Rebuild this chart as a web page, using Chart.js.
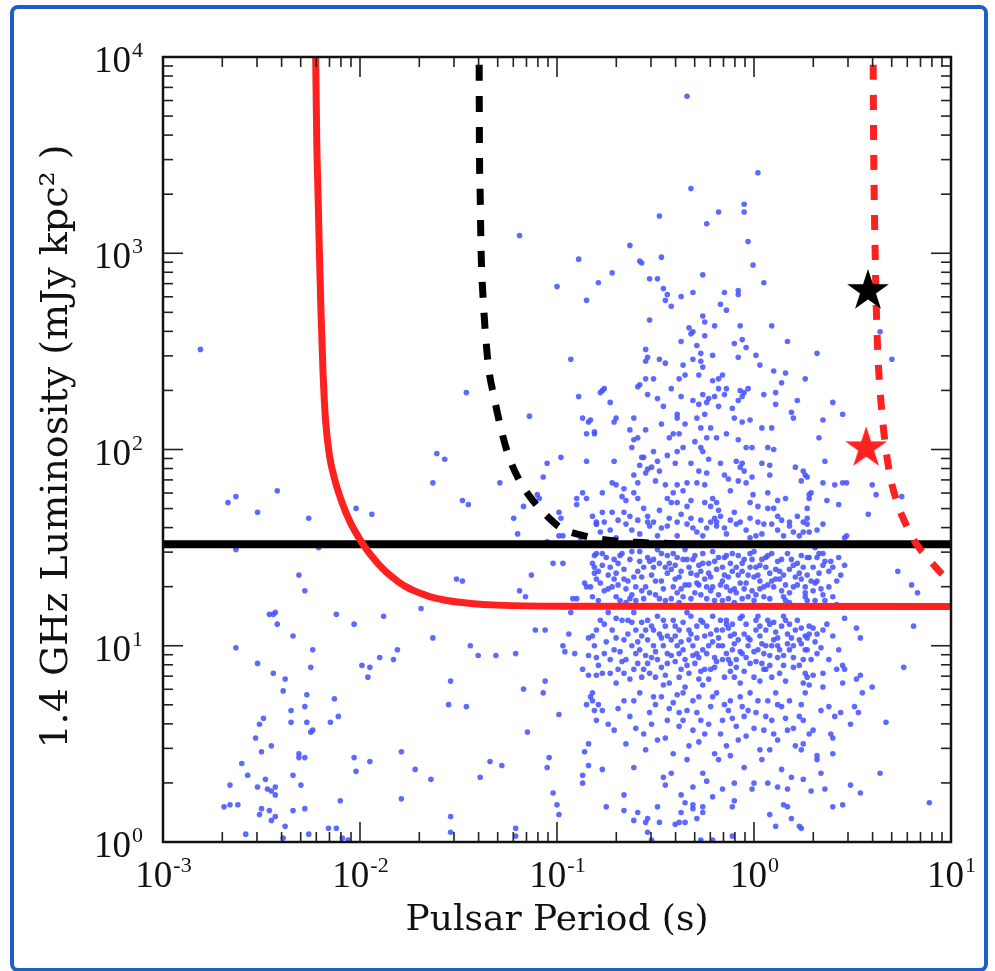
<!DOCTYPE html>
<html>
<head>
<meta charset="utf-8">
<script src="https://cdn.jsdelivr.net/npm/chart.js@4/dist/chart.umd.min.js"></script>
<style>
  html, body { margin: 0; padding: 0; background: #fff; }
  canvas { display: block; }
</style>
</head>
<body>
<canvas id="chart-luminosity" width="995" height="971"></canvas>
<script>
// all pulsar values are [log10 period (s), log10 luminosity (mJy kpc^2)]
const mspLum = [
    [-2.81,2.51],[-2.67,1.73],[-2.63,1.76],[-2.42,1.79],[-2.52,1.68],[-2.26,1.65],[-2.02,1.70],[-1.94,1.67],
    [-2.63,1.49],[-2.21,1.50],[-2.31,1.36],[-2.28,1.28],[-2.46,1.16],[-2.44,1.16],[-2.43,1.17],[-2.42,1.11],
    [-2.34,1.05],[-2.12,1.16],[-2.03,1.11],[-1.88,1.15],[-2.63,0.99],[-2.24,0.98],[-2.52,0.91],[-2.25,0.89],
    [-2.44,0.86],[-2.38,0.83],[-2.39,0.77],[-2.27,0.75],[-2.28,0.69],[-2.35,0.67],[-2.35,0.61],[-2.27,0.61],
    [-2.49,0.63],[-2.51,0.60],[-2.53,0.53],[-2.25,0.56],[-2.24,0.57],[-2.45,0.49],[-2.50,0.46],[-2.31,0.45],
    [-2.31,0.43],[-2.28,0.43],[-2.13,0.73],[-2.11,0.64],[-2.15,0.61],[-1.99,0.90],[-1.95,0.89],[-1.90,0.94],
    [-1.83,0.93],[-1.81,0.98],[-1.96,0.84],[-2.60,0.40],[-2.57,0.34],[-2.66,0.29],[-2.52,0.28],[-2.48,0.32],
    [-2.47,0.27],[-2.45,0.26],[-2.43,0.24],[-2.43,0.28],[-2.34,0.34],[-2.30,0.29],[-2.69,0.18],[-2.66,0.19],
    [-2.62,0.19],[-2.50,0.17],[-2.51,0.14],[-2.46,0.16],[-2.45,0.11],[-2.43,0.13],[-2.34,0.16],[-2.28,0.17],
    [-2.38,0.08],[-2.58,0.04],[-2.26,0.04],[-2.16,0.07],[-2.12,0.07],[-2.10,0.21],[-2.03,0.43],[-2.02,0.36],
    [-1.95,0.41],[-1.79,0.46],[-1.79,0.22],[-2.39,0.02],[-2.09,0.02],[-2.06,0.01],[-1.54,0.13],[-1.54,0.05],
    [-1.21,0.07],[-1.21,0.03],[-1.02,0.25],[-1.00,0.19],[-0.99,0.14],[-0.87,0.30]
];
const slowLeftLum = [
    [-1.19,3.09],[-0.89,2.97],[-1.00,2.83],[-0.85,2.76],[-0.93,2.46],[-1.46,2.29],[-0.89,2.27],[-0.78,2.29],
    [-1.14,2.17],[-0.87,2.16],[-0.84,2.14],[-0.85,2.08],[-0.81,2.08],[-1.61,1.98],[-1.57,1.95],[-1.63,1.83],
    [-1.29,1.83],[-0.98,1.96],[-1.05,1.93],[-0.85,1.94],[-1.07,1.86],[-1.48,1.74],[-1.45,1.72],[-1.17,1.71],
    [-1.10,1.77],[-1.09,1.75],[-0.90,1.75],[-0.90,1.72],[-0.87,1.78],[-0.85,1.75],[-1.22,1.65],[-1.20,1.57],
    [-0.99,1.68],[-0.98,1.65],[-0.99,1.56],[-0.97,1.56],[-0.88,1.55],[-0.80,1.62],[-1.09,1.52],[-1.05,1.53],
    [-1.02,1.42],[-0.97,1.42],[-1.13,1.36],[-1.51,1.34],[-1.48,1.33],[-1.19,1.28],[-1.16,1.25],[-0.81,1.40],
    [-0.86,1.32],[-0.80,1.34],[-0.85,1.30],[-0.82,1.25],[-0.92,1.24],[-0.90,1.24],[-0.93,1.17],[-1.69,1.19],
    [-1.63,1.04],[-1.11,1.08],[-1.06,1.08],[-0.94,1.06],[-0.97,1.00],[-0.96,0.97],[-0.91,0.96],[-0.84,1.04],
    [-0.84,0.95],[-0.87,0.88],[-0.84,0.85],[-0.80,0.85],[-1.44,1.00],[-1.40,0.95],[-1.31,0.95],[-1.21,0.96],
    [-1.54,0.82],[-1.55,0.70],[-1.46,0.69],[-1.17,0.78],[-1.06,0.82],[-1.07,0.76],[-0.99,0.65],[-0.83,0.74],
    [-0.82,0.72],[-0.85,0.70],[-0.81,0.67],[-1.15,0.56],[-1.34,0.41],[-1.04,0.43],[-0.84,0.50],[-0.86,0.46],
    [-1.72,0.37],[-1.64,0.32],[-1.39,0.33],[-1.28,0.39],[-1.05,0.38],[-0.87,0.34],[-0.84,0.39]
];
const coreHighLum = [
    [-0.34,3.80],[0.02,3.41],[-0.32,3.33],[-0.05,3.25],[-0.05,3.21],[-0.18,3.21],[-0.24,3.15],[-0.48,3.19],
    [-0.03,3.06],[-0.63,3.04],[-0.47,2.98],[-0.58,2.96],[-0.57,2.95],[-0.005,2.94],[-0.72,2.90],[-0.79,2.85],
    [-0.53,2.87],[-0.49,2.87],[-0.26,2.89],[0.05,2.85],[-0.46,2.82],[-0.44,2.79],[-0.45,2.76],[-0.42,2.73],
    [-0.37,2.78],[-0.31,2.80],[-0.15,2.80],[-0.08,2.81],[-0.08,2.79],[-0.17,2.74],[-0.14,2.71],[-0.53,2.66],
    [-0.26,2.68],[-0.25,2.65],[-0.33,2.62],[-0.31,2.60],[-0.32,2.59],[-0.20,2.63],[-0.07,2.63],[0.09,2.63],
    [-0.25,2.58],[-0.37,2.55],[-0.29,2.53],[-0.10,2.54],[-0.06,2.56],[-0.04,2.52],[-0.08,2.47],[0.17,2.55],
    [-0.55,2.51],[-0.54,2.47],[-0.55,2.45],[-0.48,2.46],[-0.45,2.44],[-0.27,2.49],[-0.27,2.45],[-0.26,2.42],
    [-0.28,2.38],[-0.21,2.48],[0.01,2.48],[0.03,2.43],[-0.36,2.43],[-0.31,2.46],[0.10,2.40],[0.16,2.39],
    [0.26,2.36],[-0.55,2.36],[-0.51,2.36],[-0.58,2.33],[-0.59,2.32],[-0.38,2.36],[-0.35,2.38],[-0.21,2.35],
    [-0.18,2.36],[-0.16,2.38],[-0.76,2.31],[-0.77,2.30],[-0.73,2.24],[-0.54,2.28],[-0.49,2.26],[-0.42,2.31],
    [-0.37,2.27],[-0.46,2.22],[-0.31,2.25],[-0.28,2.23],[-0.26,2.28],[-0.23,2.26],[-0.20,2.27],[-0.24,2.24],
    [-0.18,2.31],[-0.14,2.31],[-0.15,2.28],[-0.18,2.22],[-0.11,2.21],[-0.08,2.25],[-0.06,2.27],[-0.05,2.29],
    [-0.03,2.31],[-0.07,2.30],[0.05,2.28],[0.11,2.29],[0.11,2.23],[0.14,2.34],[0.22,2.25],[0.19,2.19],
    [0.20,2.16],[-0.83,2.15],[-0.81,2.09],[-0.71,2.14],[-0.70,2.16],[-0.61,2.16],[-0.63,2.10],[-0.61,2.05],
    [-0.59,2.06],[-0.62,2.01],[-0.55,2.10],[-0.57,1.96],[-0.43,2.06],[-0.47,2.13],[-0.39,2.16],[-0.39,2.18],
    [-0.35,2.13],[-0.38,2.08],[-0.41,2.08],[-0.29,2.16],[-0.25,2.18],[-0.27,2.11],[-0.22,2.11],[-0.19,2.06],
    [-0.24,2.06],[-0.30,2.04],[-0.27,2.01],[-0.26,1.99],[-0.14,2.08],[-0.10,2.16],[-0.06,2.14],[-0.02,2.15],
    [-0.08,2.05],[-0.04,2.01],[-0.01,2.01],[0.04,2.11],[0.09,2.11],[0.07,2.01],[0.10,2.00],[-0.71,1.94],
    [-0.77,1.78],[-0.77,1.68],[-0.80,1.63],[-0.72,1.83],[-0.70,1.82],[-0.66,1.80],[-0.67,1.76],[-0.65,1.74],
    [-0.61,1.87],[-0.59,1.83],[-0.61,1.78],[-0.59,1.75],[-0.56,1.96],[-0.58,1.92],[-0.54,1.90],[-0.55,1.88],
    [-0.51,1.99],[-0.49,1.94],[-0.52,1.91],[-0.50,1.84],[-0.48,1.89],[-0.44,1.97],[-0.40,1.93],[-0.39,1.99],
    [-0.36,2.01],[-0.45,1.82],[-0.44,1.75],[-0.41,1.78],[-0.39,1.82],[-0.36,1.79],[-0.34,1.83],[-0.32,1.74],
    [-0.34,1.71],[-0.39,1.73],[-0.42,1.73],[-0.32,1.93],[-0.28,1.89],[-0.29,1.83],[-0.25,1.82],[-0.23,1.95],
    [-0.24,1.88],[-0.21,1.75],[-0.19,1.73],[-0.18,1.69],[-0.17,1.66],[-0.20,1.65],[-0.22,1.71],[-0.25,1.73],
    [-0.17,1.93],[-0.15,1.87],[-0.13,1.85],[-0.12,1.79],[-0.09,1.94],[-0.07,1.91],[-0.06,1.93],[-0.05,1.89],
    [-0.08,1.84],[-0.04,1.83],[-0.01,1.86],[-0.005,1.77],[-0.02,1.73],[0.02,1.71],[0.04,1.93],[0.08,1.92],
    [0.08,1.87],[0.07,1.78],[0.12,1.74],[0.16,1.75],[0.21,1.91],[0.25,1.89],[0.27,1.86],[0.29,1.78],
    [0.07,1.70],[0.12,1.66],[0.22,1.66],[-0.82,1.66],[-0.76,1.63],[-0.72,1.68],[-0.66,1.68],[-0.63,1.66],
    [-0.59,1.64],[-0.54,1.66],[-0.51,1.63],[-0.48,1.69],[-0.43,1.65],[-0.39,1.63],[-0.32,1.65],[-0.27,1.64],
    [-0.24,1.60],[-0.19,1.63],[-0.12,1.64],[-0.07,1.63],[-0.02,1.65],[0.02,1.63],[0.09,1.62],[0.14,1.64],
    [0.18,1.63],[0.25,1.63]
];
const coreMidLum = [
    [-0.80,1.62],[-0.73,1.59],[-0.65,1.62],[-0.58,1.57],[-0.53,1.61],[-0.49,1.56],[-0.44,1.61],[-0.39,1.56],
    [-0.34,1.62],[-0.29,1.58],[-0.26,1.56],[-0.19,1.61],[-0.14,1.57],[-0.09,1.62],[-0.04,1.59],[0.01,1.56],
    [0.05,1.62],[0.12,1.59],[0.18,1.61],[0.23,1.56],[0.27,1.62],[-0.70,1.55],[-0.54,1.63],[-0.22,1.63],
    [-0.02,1.55],[0.15,1.56],
    [-0.82,1.42],[-0.81,1.37],[-0.78,1.32],[-0.75,1.45],[-0.76,1.28],[-0.73,1.40],[-0.71,1.34],[-0.70,1.25],
    [-0.67,1.47],[-0.66,1.39],[-0.65,1.29],[-0.63,1.44],[-0.61,1.35],[-0.60,1.23],[-0.58,1.48],[-0.56,1.40],
    [-0.55,1.30],[-0.54,1.45],[-0.52,1.36],[-0.50,1.26],[-0.49,1.49],[-0.48,1.42],[-0.47,1.33],[-0.45,1.23],
    [-0.44,1.46],[-0.42,1.39],[-0.41,1.30],[-0.39,1.45],[-0.38,1.35],[-0.36,1.25],[-0.35,1.49],[-0.33,1.40],
    [-0.33,1.31],[-0.31,1.44],[-0.29,1.36],[-0.27,1.26],[-0.26,1.47],[-0.25,1.34],[-0.23,1.42],[-0.22,1.28],
    [-0.21,1.48],[-0.19,1.39],[-0.17,1.31],[-0.16,1.23],[-0.15,1.45],[-0.13,1.35],[-0.12,1.28],[-0.11,1.47],
    [-0.09,1.40],[-0.07,1.32],[-0.06,1.24],[-0.05,1.44],[-0.03,1.36],[-0.01,1.28],[0.00,1.48],[0.01,1.40],
    [0.03,1.33],[0.05,1.25],[0.06,1.45],[0.08,1.37],[0.10,1.30],[0.12,1.43],[0.13,1.34],[0.15,1.25],
    [0.17,1.47],[0.18,1.39],[0.20,1.30],[0.22,1.42],[0.24,1.34],[0.26,1.27],[0.28,1.45],[-0.79,1.23],
    [-0.65,1.22],[-0.38,1.22],[-0.10,1.22],[0.18,1.22],[-0.77,1.47],[-0.71,1.44],[-0.62,1.48],[-0.60,1.30],
    [-0.51,1.44],[-0.44,1.37],[-0.40,1.41],[-0.37,1.29],[-0.32,1.37],[-0.28,1.41],[-0.24,1.24],[-0.22,1.35],
    [-0.16,1.40],[-0.14,1.30],[-0.08,1.36],[-0.05,1.29],[-0.02,1.40],[0.01,1.26],[0.04,1.44],[0.07,1.31],
    [0.11,1.39],[0.14,1.28],[0.21,1.35],[0.25,1.40],[-0.69,1.31],[-0.74,1.36],
    [-0.79,1.38],[-0.74,1.29],[-0.69,1.42],[-0.64,1.33],[-0.62,1.26],[-0.57,1.35],[-0.53,1.27],[-0.51,1.40],
    [-0.46,1.29],[-0.43,1.42],[-0.40,1.34],[-0.36,1.44],[-0.35,1.31],[-0.30,1.27],[-0.30,1.46],[-0.27,1.38],
    [-0.24,1.30],[-0.20,1.43],[-0.18,1.26],[-0.15,1.36],[-0.12,1.42],[-0.10,1.29],[-0.08,1.46],[-0.06,1.38],
    [-0.03,1.25],[-0.01,1.44],[0.02,1.36],[0.03,1.29],[0.06,1.40],[0.09,1.33],[0.09,1.47],[0.13,1.38],
    [0.16,1.31],[0.19,1.44],[0.23,1.37],[0.26,1.30],[-0.83,1.30],[-0.80,1.47],[-0.68,1.23],[-0.56,1.24],
    [-0.42,1.24],[-0.28,1.31],[-0.20,1.23],[-0.14,1.46],[0.00,1.23],[0.16,1.23],[0.27,1.23],[-0.47,1.47],
    [-0.58,1.43],[-0.70,1.37]
];
const coreDenseLum = [
    [-0.81,1.46],[-0.77,1.41],[-0.72,1.30],[-0.68,1.46],[-0.66,1.34],[-0.63,1.24],[-0.59,1.38],[-0.57,1.28],
    [-0.53,1.43],[-0.50,1.33],[-0.48,1.24],[-0.45,1.40],[-0.41,1.47],[-0.39,1.27],[-0.37,1.38],[-0.34,1.44],
    [-0.32,1.24],[-0.29,1.32],[-0.26,1.42],[-0.23,1.37],[-0.21,1.30],[-0.18,1.45],[-0.16,1.33],[-0.13,1.24],
    [-0.11,1.38],[-0.09,1.27],[-0.06,1.42],[-0.04,1.32],[-0.02,1.47],[0.00,1.35],[0.03,1.41],[0.05,1.30],
    [0.07,1.46],[0.08,1.24],[0.11,1.34],[0.14,1.44],[0.15,1.36],[0.18,1.27],[0.20,1.41],[0.22,1.31],
    [0.24,1.46],[0.27,1.36],[0.30,1.40],[0.33,1.37],[0.30,1.28],[0.38,1.38],[0.40,1.25],[0.44,1.36],
    [0.33,1.47],[0.43,1.45],
    [-0.80,1.08],[-0.76,0.96],[-0.73,0.86],[-0.70,1.04],[-0.67,0.92],[-0.64,1.13],[-0.61,0.88],[-0.59,1.02],
    [-0.55,1.08],[-0.53,0.86],[-0.50,0.97],[-0.47,1.04],[-0.45,0.85],[-0.42,0.95],[-0.40,1.10],[-0.37,1.02],
    [-0.34,0.90],[-0.32,1.06],[-0.29,0.96],[-0.26,1.12],[-0.25,0.88],[-0.21,1.02],[-0.19,0.92],[-0.16,1.00],
    [-0.14,1.11],[-0.12,0.91],[-0.10,1.06],[-0.07,0.97],[-0.05,0.87],[-0.02,1.03],[0.01,0.92],[0.03,1.10],
    [0.06,1.00],[0.08,0.90],[0.10,1.12],[0.12,1.04],[0.15,0.95],[0.18,1.11],[0.20,1.00],[0.23,0.90],
    [0.26,1.05],[0.29,0.93],[0.31,1.02],[0.38,0.93],[0.40,1.05],[0.30,0.85],[0.42,0.88],
    [-0.78,1.58],[-0.69,1.64],[-0.62,1.59],[-0.56,1.70],[-0.47,1.60],[-0.37,1.67],[-0.31,1.60],[-0.15,1.60],
    [-0.10,1.68],[0.04,1.57],[0.10,1.70],[0.20,1.58],[0.27,1.70],[0.32,1.59]
];
const coreLowLum = [
    [-0.82,1.05],[-0.80,0.94],[-0.78,1.13],[-0.77,0.86],[-0.74,1.17],[-0.72,1.08],[-0.71,0.98],[-0.69,0.88],
    [-0.67,1.13],[-0.66,1.03],[-0.65,0.93],[-0.63,0.83],[-0.61,1.17],[-0.60,1.08],[-0.58,0.98],[-0.56,0.88],
    [-0.54,1.13],[-0.54,1.03],[-0.52,0.94],[-0.50,0.84],[-0.49,1.15],[-0.48,1.06],[-0.46,1.00],[-0.44,0.91],
    [-0.43,0.81],[-0.41,1.13],[-0.40,1.05],[-0.38,0.96],[-0.37,0.88],[-0.35,0.79],[-0.34,1.17],[-0.33,1.08],
    [-0.31,1.00],[-0.30,0.91],[-0.28,0.83],[-0.27,1.13],[-0.25,1.05],[-0.24,0.96],[-0.22,0.88],[-0.21,1.15],
    [-0.19,1.08],[-0.18,1.00],[-0.16,0.93],[-0.15,0.84],[-0.14,1.13],[-0.12,1.05],[-0.11,0.98],[-0.09,0.89],
    [-0.07,0.81],[-0.06,1.15],[-0.05,1.06],[-0.03,1.00],[-0.02,0.91],[0.00,0.84],[0.01,1.13],[0.03,1.05],
    [0.05,0.96],[0.06,0.88],[0.08,1.11],[0.10,1.03],[0.12,0.94],[0.13,0.86],[0.15,1.15],[0.17,1.06],
    [0.18,0.98],[0.20,0.89],[0.22,1.13],[0.23,1.03],[0.25,0.93],[0.27,0.84],[0.28,1.10],
    [-0.76,1.11],[-0.64,1.06],[-0.57,1.12],[-0.51,1.08],[-0.45,1.10],[-0.42,1.03],[-0.38,1.08],[-0.33,1.03],
    [-0.29,1.10],[-0.26,0.98],[-0.22,1.06],[-0.20,0.94],[-0.16,1.08],[-0.11,1.11],[-0.08,1.03],[-0.04,1.11],
    [0.01,1.08],[0.02,0.98],[0.06,1.08],[0.09,1.00],[0.14,1.10],[0.17,1.01],[0.21,1.08],[-0.44,0.96],
    [-0.36,0.98],[-0.28,0.94],[-0.13,0.93],[-0.06,0.96],[0.04,0.91],[0.12,1.00],[-0.60,0.96],[-0.54,0.91],
    [-0.49,0.93],[-0.33,0.86],[-0.23,0.83],[-0.10,0.84],[0.09,0.84],
    [-0.81,1.00],[-0.79,0.90],[-0.75,1.02],[-0.73,0.93],[-0.70,1.14],[-0.68,0.97],[-0.66,0.86],[-0.62,1.00],
    [-0.62,1.12],[-0.59,0.91],[-0.57,1.05],[-0.55,0.95],[-0.52,1.10],[-0.51,1.00],[-0.47,0.89],[-0.46,1.13],
    [-0.44,1.05],[-0.40,0.92],[-0.39,1.00],[-0.36,1.12],[-0.35,0.93],[-0.32,1.15],[-0.31,0.95],[-0.29,1.04],
    [-0.27,0.87],[-0.24,1.10],[-0.23,1.00],[-0.20,0.89],[-0.18,1.04],[-0.17,1.13],[-0.14,0.96],[-0.13,1.09],
    [-0.10,1.01],[-0.09,0.93],[-0.07,1.14],[-0.04,0.94],[-0.03,1.04],[0.00,0.97],[0.02,1.15],[0.04,1.01],
    [0.05,0.88],[0.07,1.13],[0.08,0.95],[0.11,1.07],[0.13,0.98],[0.15,0.90],[0.16,1.13],[0.19,1.04],
    [0.20,0.94],[0.24,1.09],[0.26,0.98],[-0.38,0.84],[-0.26,0.80],[-0.12,0.87],[0.03,0.82],[0.16,0.82],
    [-0.57,0.84],[-0.70,0.81],[-0.46,0.80],
    [-0.82,0.76],[-0.77,0.67],[-0.71,0.57],[-0.66,0.72],[-0.63,0.64],[-0.58,0.76],[-0.56,0.55],[-0.53,0.66],
    [-0.49,0.52],[-0.47,0.74],[-0.44,0.62],[-0.41,0.71],[-0.38,0.59],[-0.36,0.76],[-0.34,0.67],[-0.33,0.49],
    [-0.31,0.72],[-0.27,0.62],[-0.25,0.55],[-0.22,0.69],[-0.20,0.45],[-0.19,0.76],[-0.16,0.62],[-0.14,0.49],
    [-0.12,0.72],[-0.09,0.59],[-0.06,0.69],[-0.04,0.54],[-0.02,0.76],[0.01,0.66],[0.03,0.47],[0.05,0.57],
    [0.07,0.72],[0.09,0.62],[0.12,0.52],[0.14,0.69],[0.17,0.57],[0.18,0.72],[0.21,0.49],[0.23,0.64],
    [0.26,0.76],[0.28,0.55],[-0.80,0.62],[-0.51,0.74],[-0.38,0.66],[-0.28,0.74],[-0.13,0.67],[-0.05,0.64],
    [0.11,0.76],
    [-0.79,0.70],[-0.74,0.60],[-0.69,0.68],[-0.61,0.72],[-0.60,0.58],[-0.52,0.60],[-0.50,0.70],[-0.45,0.53],
    [-0.43,0.68],[-0.39,0.75],[-0.36,0.62],[-0.31,0.57],[-0.29,0.66],[-0.23,0.60],[-0.21,0.74],[-0.17,0.55],
    [-0.15,0.70],[-0.11,0.63],[-0.08,0.52],[-0.07,0.74],[-0.03,0.67],[0.00,0.58],[0.02,0.72],[0.06,0.64],
    [0.10,0.55],[0.12,0.70],[0.16,0.63],[0.20,0.58],[0.24,0.70],[-0.55,0.47],[-0.41,0.45],[-0.28,0.51],
    [-0.12,0.44],[0.08,0.47],[0.25,0.50],[-0.65,0.50],
    [-0.77,0.37],[-0.61,0.38],[-0.42,0.35],[-0.34,0.42],[-0.18,0.42],[-0.05,0.38],[0.04,0.42],[0.14,0.37],
    [0.19,0.33],[-0.46,0.33],[-0.26,0.35],
    [-0.75,0.18],[-0.66,0.24],[-0.66,0.16],[-0.59,0.15],[-0.61,0.11],[-0.55,0.10],[-0.54,0.12],[-0.49,0.18],
    [-0.48,0.10],[-0.54,0.05],[-0.52,0.01],[-0.45,0.29],[-0.37,0.24],[-0.35,0.20],[-0.37,0.15],[-0.40,0.09],
    [-0.38,0.10],[-0.35,0.10],[-0.29,0.12],[-0.31,0.19],[-0.31,0.17],[-0.26,0.18],[-0.26,0.15],[-0.31,0.28],
    [-0.24,0.31],[-0.21,0.23],[-0.16,0.27],[-0.11,0.18],[-0.10,0.21],[-0.27,0.01],[-0.21,0.01],[-0.11,0.03],
    [-0.10,0.30],[-0.01,0.27],[0.00,0.30],[0.08,0.14],[0.11,0.08],[0.15,0.19],[0.17,0.18],[0.19,0.12],
    [0.23,0.08],[0.07,0.30],[0.12,0.28],[0.17,0.27]
];
const slowRightLum = [
    [0.64,2.60],[0.70,2.46],[0.32,2.49],[0.40,2.24],[0.45,2.18],[0.35,2.15],[0.33,2.06],[0.36,1.94],
    [0.26,1.87],[0.24,1.84],[0.35,1.83],[0.41,1.82],[0.45,1.83],[0.47,1.83],[0.28,1.77],[0.28,1.75],
    [0.37,1.74],[0.43,1.72],[0.60,1.82],[0.62,1.77],[0.75,1.76],[0.58,1.67],[0.27,1.65],[0.35,1.62],
    [0.25,1.58],[0.28,1.58],[0.47,1.56],[0.46,1.55],[0.31,1.50],[0.27,1.45],[0.32,1.45],[0.35,1.47],
    [0.36,1.43],[0.39,1.43],[0.35,1.41],[0.40,1.40],[0.46,1.41],[0.73,1.38],[0.80,1.31],[0.83,1.27],
    [0.29,1.33],[0.31,1.32],[0.32,1.33],[0.34,1.29],[0.35,1.26],[0.26,1.25],[0.31,1.23],[0.36,1.23],
    [0.42,1.33],[0.38,1.30],[0.42,1.21],[0.37,1.11],[0.35,1.08],[0.30,1.09],[0.32,1.06],[0.28,1.06],
    [0.27,1.04],[0.46,1.14],[0.52,1.09],[0.54,1.04],[0.81,1.10],[0.34,0.99],[0.32,0.96],[0.27,0.98],
    [0.24,1.01],[0.43,0.98],[0.45,0.90],[0.46,0.88],[0.35,0.86],[0.26,0.86],[0.25,0.81],[0.28,0.80],
    [0.35,0.79],[0.45,0.81],[0.54,0.85],[0.52,0.83],[0.55,0.76],[0.60,0.79],[0.76,0.89],[0.34,0.67],
    [0.38,0.69],[0.41,0.64],[0.44,0.66],[0.51,0.69],[0.53,0.66],[0.49,0.60],[0.67,0.61],[0.25,0.62],
    [0.30,0.57],[0.39,0.55],[0.40,0.53],[0.24,0.47],[0.32,0.44],[0.32,0.42],[0.40,0.45],[0.34,0.35],
    [0.64,0.35],[0.25,0.32],[0.29,0.26],[0.36,0.27],[0.49,0.29],[0.54,0.25],[0.40,0.18],[0.45,0.19],
    [0.89,0.20],[0.24,0.07]
];

// survey limits, same log units
const limitBlack = [[-3, 1.517], [1, 1.517]];
const curveRed = [
    [-2.225,4.0],[-2.22,3.6],[-2.213,3.3],[-2.206,3.0],[-2.198,2.7],[-2.188,2.4],[-2.175,2.15],[-2.155,1.97],
    [-2.13,1.854],[-2.09,1.726],[-2.05,1.63],[-2.0,1.541],[-1.97,1.496],[-1.94,1.456],[-1.905,1.415],
    [-1.87,1.379],[-1.835,1.349],[-1.80,1.322],[-1.765,1.300],[-1.73,1.282],[-1.69,1.266],[-1.65,1.252],
    [-1.60,1.239],[-1.55,1.229],[-1.45,1.217],[-1.3,1.207],[-1.0,1.201],[1.0,1.20]
];
const curveBlackDash = [
    [-1.395,3.96],[-1.394,3.6],[-1.39,3.3],[-1.385,3.0],[-1.375,2.77],[-1.36,2.55],[-1.345,2.40],[-1.32,2.27],
    [-1.29,2.13],[-1.25,1.98],[-1.19,1.84],[-1.13,1.75],[-1.06,1.67],[-0.98,1.60],[-0.88,1.565],[-0.76,1.54],
    [-0.6,1.527],[-0.4,1.52]
];
const curveRedDash = [
    [0.605,3.96],[0.607,3.6],[0.61,3.3],[0.615,3.0],[0.62,2.75],[0.628,2.5],[0.64,2.3],[0.66,2.08],
    [0.69,1.87],[0.73,1.72],[0.78,1.60],[0.83,1.51],[0.88,1.45],[0.95,1.37],[0.97,1.35]
];
// stars: [period (s), luminosity]
const starBlack = [3.79, 658];
const starRed = [3.71, 104];

const xTickExp = [-3, -2, -1, 0, 1];
const yTickExp = [0, 1, 2, 3, 4];

const toPoint = (p) => ({ x: Math.pow(10, p[0]), y: Math.pow(10, p[1]) });
const pulsars = [].concat(mspLum, slowLeftLum, coreHighLum, coreMidLum, coreDenseLum, coreLowLum, slowRightLum).map(toPoint);

const RED = "rgb(255,32,32)";

function makeStar(color) {
    const size = 48, R = 22, r = R * 0.382;
    const cv = document.createElement("canvas");
    cv.width = size; cv.height = size;
    const c = cv.getContext("2d");
    c.translate(size / 2, size / 2 + 2);
    c.beginPath();
    for (let i = 0; i < 10; i++) {
        const rad = i % 2 === 0 ? R : r;
        const a = -Math.PI / 2 + i * Math.PI / 5;
        c.lineTo(rad * Math.cos(a), rad * Math.sin(a));
    }
    c.closePath();
    c.fillStyle = color;
    c.fill();
    return cv;
}

const framePlugin = {
    id: "frame",
    beforeDraw(chart) {
        const c = chart.ctx;
        c.save();
        c.fillStyle = "#fff";
        c.fillRect(0, 0, chart.width, chart.height);
        c.strokeStyle = "#1d5fc2";
        c.lineWidth = 4;
        c.beginPath();
        c.roundRect(12, 7, 974, 963, 6);
        c.stroke();
        c.restore();
    },
    afterDraw(chart) {
        const c = chart.ctx;
        const a = chart.chartArea;
        const sx = chart.scales.x, sy = chart.scales.y;
        c.save();
        c.strokeStyle = "#222";
        c.lineWidth = 1.6;
        const line = (x1, y1, x2, y2) => { c.beginPath(); c.moveTo(x1, y1); c.lineTo(x2, y2); c.stroke(); };
        // inward ticks on all four sides
        xTickExp.forEach((e, i) => {
            for (let m = 1; m <= 9; m++) {
                if (i === xTickExp.length - 1 && m > 1) break;
                const px = sx.getPixelForValue(m * Math.pow(10, e));
                const len = m === 1 ? 20 : 10;
                line(px, a.bottom, px, a.bottom - len);
                line(px, a.top, px, a.top + len);
            }
        });
        yTickExp.forEach((e, i) => {
            for (let m = 1; m <= 9; m++) {
                if (i === yTickExp.length - 1 && m > 1) break;
                const py = sy.getPixelForValue(m * Math.pow(10, e));
                const len = m === 1 ? 20 : 10;
                line(a.left, py, a.left + len, py);
                line(a.right, py, a.right - len, py);
            }
        });
        c.strokeStyle = "#111";
        c.lineWidth = 2.5;
        c.strokeRect(a.left, a.top, a.right - a.left, a.bottom - a.top);

        // tick labels 10^n
        const baseFont = '37px "Liberation Serif"';
        const expFont = '22px "Liberation Serif"';
        c.fillStyle = "#111";
        c.textBaseline = "alphabetic";
        c.textAlign = "left";
        const label = (e, x, y, align) => {
            c.font = baseFont;
            const wb = c.measureText("10").width;
            c.font = expFont;
            const we = c.measureText(String(e)).width;
            const left = align === "center" ? x - (wb + we) / 2 : x - wb - we - 1;
            c.font = baseFont;
            c.fillText("10", left, y);
            c.font = expFont;
            c.fillText(String(e), left + wb + 1, y - 15);
        };
        xTickExp.forEach((e) => label(e, sx.getPixelForValue(Math.pow(10, e)), a.bottom + 45, "center"));
        yTickExp.forEach((e) => label(e, a.left - 20, sy.getPixelForValue(Math.pow(10, e)) + 15, "right"));

        // axis titles
        c.font = '36px "DejaVu Serif"';
        c.textAlign = "center";
        c.fillText("Pulsar Period (s)", (a.left + a.right) / 2, 930);
        c.save();
        c.translate(67, (a.top + a.bottom) / 2 - 3);
        c.rotate(-Math.PI / 2);
        c.font = '38px "DejaVu Serif"';
        c.fillText("1.4 GHz Luminosity (mJy kpc\u00B2 )", 0, 0);
        c.restore();
        c.restore();
    },
};

const curveStyle = {
    type: "line",
    showLine: true,
    fill: false,
    pointRadius: 0,
    borderWidth: 7,
    borderJoinStyle: "round",
    cubicInterpolationMode: "monotone",
};

const dataLuminosity = {
    datasets: [
        {
            label: "Pulsars",
            data: pulsars,
            pointRadius: 2.8,
            pointBorderWidth: 0,
            backgroundColor: "rgba(72,84,255,0.88)",
            order: 5,
        },
        Object.assign({}, curveStyle, {
            label: "Limit",
            data: limitBlack.map(toPoint),
            borderColor: "#000",
            borderWidth: 8,
            order: 3,
        }),
        Object.assign({}, curveStyle, {
            label: "Red sensitivity",
            data: curveRed.map(toPoint),
            borderColor: RED,
            order: 2,
        }),
        Object.assign({}, curveStyle, {
            label: "Black dashed",
            data: curveBlackDash.map(toPoint),
            borderColor: "#000",
            borderDash: [16, 15],
            order: 2,
        }),
        Object.assign({}, curveStyle, {
            label: "Red dashed",
            data: curveRedDash.map(toPoint),
            borderColor: RED,
            borderDash: [15, 15],
            order: 2,
        }),
        {
            label: "Black star",
            data: [{ x: starBlack[0], y: starBlack[1] }],
            pointStyle: makeStar("#000"),
            order: 0,
        },
        {
            label: "Red star",
            data: [{ x: starRed[0], y: starRed[1] }],
            pointStyle: makeStar(RED),
            order: 0,
        },
    ],
};

const configLuminosity = {
    type: "scatter",
    data: dataLuminosity,
    options: {
        responsive: false,
        animation: false,
        events: [],
        layout: {
            padding: { left: 163, top: 57, right: 44, bottom: 129 },
        },
        scales: {
            x: { type: "logarithmic", min: 1e-3, max: 10, display: false },
            y: { type: "logarithmic", min: 1, max: 1e4, display: false },
        },
        plugins: {
            legend: { display: false },
            tooltip: { enabled: false },
        },
    },
    plugins: [framePlugin],
};

new Chart(document.getElementById("chart-luminosity"), configLuminosity);
</script>
</body>
</html>
